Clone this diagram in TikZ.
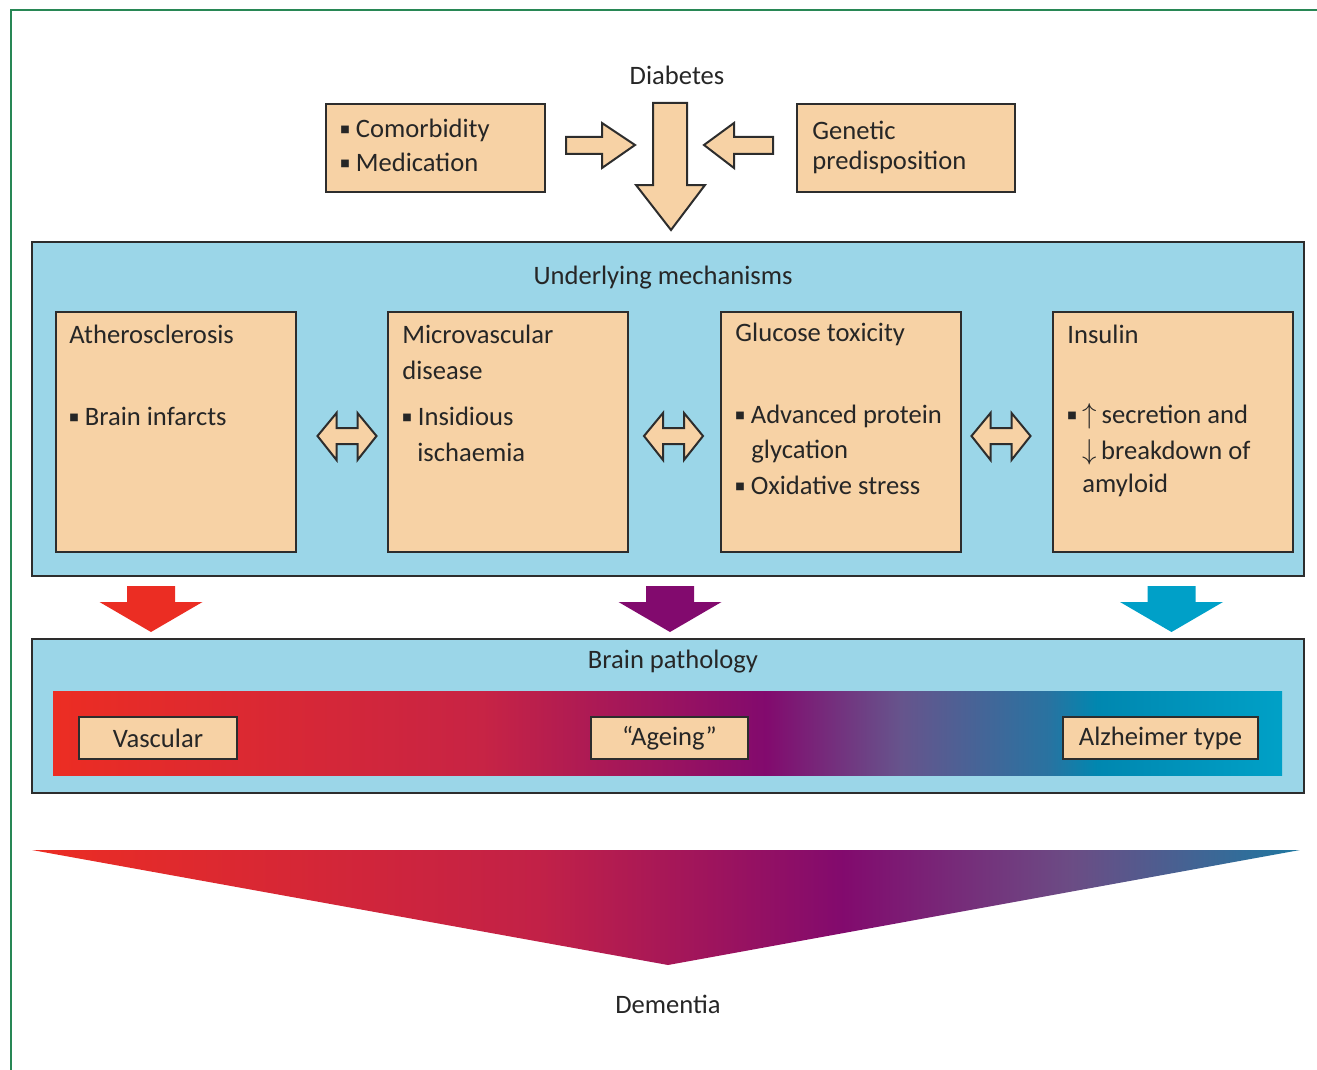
\documentclass[tikz,border=0pt]{standalone}
\usepackage{fontspec}
\setmainfont{Carlito}
\newfontfamily\symfont{DejaVu Sans}
\definecolor{peach}{RGB}{247,210,165}
\definecolor{lblue}{RGB}{155,214,232}
\definecolor{edgec}{RGB}{45,45,45}
\definecolor{framec}{RGB}{40,135,85}
\definecolor{cred}{RGB}{235,45,35}
\definecolor{cpurple}{RGB}{130,10,110}
\definecolor{ccyan}{RGB}{0,160,200}
\pgfdeclarehorizontalshading{bandshade}{100bp}{%
  rgb(0bp)=(0.925,0.176,0.137); rgb(25bp)=(0.925,0.176,0.137);
  rgb(42.5bp)=(0.78,0.14,0.27);
  rgb(54bp)=(0.51,0.04,0.43);
  rgb(59.5bp)=(0.40,0.33,0.55);
  rgb(65.5bp)=(0.16,0.45,0.63);
  rgb(67.5bp)=(0.0,0.53,0.69);
  rgb(75bp)=(0.0,0.63,0.78); rgb(100bp)=(0.0,0.63,0.78)}
\pgfdeclarehorizontalshading{trishade}{100bp}{%
  rgb(0bp)=(0.925,0.176,0.137); rgb(25bp)=(0.925,0.176,0.137);
  rgb(45bp)=(0.76,0.13,0.28);
  rgb(57bp)=(0.51,0.04,0.43);
  rgb(66bp)=(0.42,0.30,0.52);
  rgb(75bp)=(0.12,0.47,0.63); rgb(100bp)=(0.12,0.47,0.63)}
\tikzset{
  pbox/.style={draw=edgec, fill=peach, line width=1pt, anchor=north west, inner sep=0pt},
  bbox/.style={draw=edgec, fill=lblue, line width=1pt, anchor=north west, inner sep=0pt},
  txt/.style={anchor=west, inner sep=0pt, text=black!85, font=\fontsize{13.3}{16}\selectfont},
  ctxt/.style={anchor=center, inner sep=0pt, text=black!85, font=\fontsize{13.3}{16}\selectfont},
  blockarrow/.style={draw=edgec, fill=peach, line width=1pt, line join=miter},
}
\newcommand{\bul}{{\symfont\fontsize{5}{5}\selectfont\raisebox{2.4pt}{■}}\hspace{3pt}}
\begin{document}
\begin{tikzpicture}[x=0.5pt,y=-0.5pt]
\useasboundingbox (0,0) rectangle (1317,1070);
% frame
\draw[framec, line width=1.2pt] (11,1070) -- (11,10) -- (1317,10);

% top row
\node[ctxt] (diab) at (677,75) {Diabetes};
\node[pbox, minimum width=109.5pt, minimum height=44pt] (como) at (325,103) {};
\node[txt] (como1) at (340,130) {\bul Comorbidity};
\node[txt] (como2) at (340,162) {\bul Medication};
\node[pbox, minimum width=109pt, minimum height=44pt] (gene) at (796,103) {};
\node[txt] (gene1) at (812,130) {Genetic};
\node[txt] (gene2) at (812,162) {predisposition};

\draw[blockarrow] (566,137)--(602,137)--(602,123)--(635,145)--(602,168)--(602,154)--(566,154)--cycle;
\draw[blockarrow] (704,145)--(734,123)--(734,137)--(773,137)--(773,154)--(734,154)--(734,168)--cycle;
\draw[blockarrow] (653,103)--(687,103)--(687,185)--(705,185)--(671,230)--(636,185)--(653,185)--cycle;

% underlying mechanisms
\node[bbox, minimum width=636pt, minimum height=167pt] (mech) at (31,241) {};
\node[ctxt] (mecht) at (663,278) {Underlying mechanisms};

\node[pbox, minimum width=120pt, minimum height=120pt] (b1) at (55,311) {};
\node[pbox, minimum width=120pt, minimum height=120pt] (b2) at (387,311) {};
\node[pbox, minimum width=120pt, minimum height=120pt] (b3) at (720,311) {};
\node[pbox, minimum width=120pt, minimum height=120pt] (b4) at (1052,311) {};

\node[txt] (b1t) at (69,334) {Atherosclerosis};
\node[txt] (b1a) at (69,416) {\bul Brain infarcts};

\node[txt] (b2t) at (402,334) {Microvascular};
\node[txt] (b2u) at (402,370) {disease};
\node[txt] (b2a) at (402,416) {\bul Insidious};
\node[txt] (b2b) at (417,452) {ischaemia};

\node[txt] (b3t) at (735,334) {Glucose toxicity};
\node[txt] (b3a) at (735,416) {\bul Advanced protein};
\node[txt] (b3b) at (751,452) {glycation};
\node[txt] (b3c) at (735,485) {\bul Oxidative stress};

\node[txt] (b4t) at (1067,334) {Insulin};
\node[txt] (b4a) at (1067,416) {\bul $\uparrow$\,secretion and};
\node[txt] (b4b) at (1082,452) {$\downarrow$\,breakdown of};
\node[txt] (b4c) at (1082,485) {amyloid};

\foreach \cx in {346.5,673,1000.5}{
  \draw[blockarrow] (\cx-29,436)--(\cx-10,413)--(\cx-10,428)--(\cx+11,428)--(\cx+11,413)--(\cx+30,436)
    --(\cx+11,460)--(\cx+11,444)--(\cx-10,444)--(\cx-10,460)--cycle;
}

% coloured arrows
\foreach \cx/\col in {151/cred,670/cpurple,1171.5/ccyan}{
  \fill[\col] (\cx-24,586)--(\cx+24,586)--(\cx+24,602)--(\cx+51.5,602)--(\cx,632)--(\cx-51.5,602)--(\cx-24,602)--cycle;
}

% brain pathology
\node[bbox, minimum width=636pt, minimum height=77pt] (path) at (31,638) {};
\node[ctxt] (patht) at (673,662) {Brain pathology};
\shade[shading=bandshade] (53,691) rectangle (1282,775);
\node[pbox, minimum width=79pt, minimum height=21pt] (vasc) at (78,716) {};
\node[ctxt] at (vasc.center) (vasct) {Vascular};
\node[pbox, minimum width=78.5pt, minimum height=21pt] (age) at (590,716) {};
\node[ctxt] at (age.center) (aget) {“Ageing”};
\node[pbox, minimum width=97.5pt, minimum height=21pt] (alz) at (1062,716) {};
\node[ctxt] at (alz.center) (alzt) {Alzheimer type};

% dementia
\shade[shading=trishade] (32,850) -- (1300,850) -- (668,965) -- cycle;
\node[ctxt] (dem) at (668,1004) {Dementia};
\end{tikzpicture}
\end{document}
